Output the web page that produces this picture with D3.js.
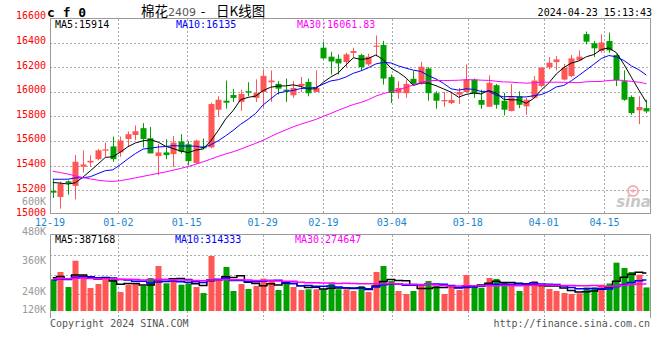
<!DOCTYPE html>
<html><head><meta charset="utf-8">
<script src="https://cdn.jsdelivr.net/npm/d3@7/dist/d3.min.js"></script>
<style>body{margin:0;background:#fff}svg{display:block}</style>
</head><body>
<svg id="c" width="660" height="360"></svg>
<script>
// ---- data ----
const openP = [15194,15145,15272,15235,15390,15425,15452,15521,15556,15507,
15616,15649,15704,15622,15477,15507,15493,15595,15573,15420,
15556,15548,15854,15927,15974,15917,16004,15950,15998,16077,
16064,16017,15971,16047,16080,15998,16358,16285,16268,16241,
16315,16298,16222,16369,16380,16119,15990,15988,16105,16069,
16189,15988,15922,15908,15976,15998,16099,15933,15878,16053,
15927,15843,15963,15881,15950,16047,16200,16241,16099,16127,
16255,16468,16394,16331,16413,16298,16086,15957,15849,15867];
const highP = [15290,15270,15281,15485,15524,15483,15534,15587,15636,15636,
15677,15726,15745,15714,15575,15614,15641,15655,15600,15610,
15620,15912,15963,16091,16023,16017,16077,16100,16181,16173,
16086,16107,16086,16121,16107,16173,16407,16325,16304,16317,
16358,16309,16309,16457,16413,16140,16086,16100,16168,16244,
16200,16004,15998,15998,16031,16222,16107,16017,16132,16064,
15990,16064,16004,15950,16127,16200,16282,16290,16227,16298,
16336,16489,16413,16467,16481,16304,16173,15971,15963,15935];
const lowP = [15137,15050,15164,15125,15344,15390,15442,15472,15431,15472,
15554,15608,15546,15499,15322,15452,15387,15499,15403,15415,
15530,15540,15800,15862,15917,15845,15963,15917,15873,15917,
15976,15917,15950,15998,15963,15998,16263,16140,16140,16200,
16277,16168,16208,16287,16058,15908,15944,15950,16053,16058,
15927,15862,15878,15900,15900,15998,15950,15862,15878,15862,
15808,15840,15867,15813,15944,16037,16181,16173,16091,16118,
16250,16385,16282,16317,16317,16045,15927,15813,15736,15826];
const closeP = [15180,15254,15254,15431,15409,15439,15524,15532,15452,15603,
15655,15679,15616,15499,15507,15485,15587,15513,15436,15603,
15540,15900,15935,15911,15950,15982,15993,15990,16129,16091,
16025,16004,16031,16064,15988,16031,16271,16246,16230,16304,
16331,16200,16285,16375,16107,15990,16031,16064,16064,16203,
15988,15927,15933,15933,15998,16099,15985,15894,16072,15894,
15854,15955,15894,15935,16091,16195,16236,16263,16195,16271,
16285,16407,16353,16400,16336,16094,15935,15826,15876,15840];
const volume = [323000,397000,244000,512000,363000,234000,275000,323000,336000,193000,
268000,275000,255000,336000,458000,282000,316000,268000,282000,244000,
183000,560000,313000,448000,204000,275000,224000,255000,329000,305000,
214000,305000,244000,214000,221000,221000,221000,282000,221000,221000,
204000,255000,193000,397000,458000,305000,204000,173000,204000,255000,
305000,255000,173000,255000,214000,366000,255000,237000,336000,326000,
295000,255000,204000,285000,305000,255000,224000,204000,183000,173000,
180000,240000,240000,268000,280000,492000,438000,397000,369000,240000];
// estimated sessions before the visible window (only feed the moving averages)
const priorCloses = [15554,15614,15881,15799,15799,15824,15742,15542,15423,15325,
15319,15256,15139,15147,15125,15167,15093,14956,15063,14940,
15254,15254,15321,15409,15342,15274,15294,15381,15181];
const priorVolumes = [352000,318000,365000,301000,344000,327000,389000,312000,336000,298000,
357000,341000,322000,368000,309000,346000,330000,315000,349000,331000,
288000,301000,276000,312000,288000,331000,362000,318000,361000];
const tickLabels = ["12-19","01-02","01-15","01-29","02-19","03-04","03-18","04-01","04-15"];
const tickIndex = [0,9,18,28,36,45,55,65,73];
const priceTicks = [16600,16400,16200,16000,15800,15600,15400,15200,15000];
const volLabels = ["480K","360K","240K","120K"];
const mainLegendNames = ["MA5","MA10","MA30"];
const mainLegendValues = ["15914","16135","16061.83"];
const volLegendValues = ["387168","314333","274647"];
const maPeriods = [5,10,30];

// ---- drawing ----
const N = closeP.length;
const svg = d3.select("#c");
const MONO = "'DejaVu Sans Mono', monospace";
const CJK = "'Noto Sans CJK SC', sans-serif";
const RED = "#ff5555", GREEN = "#00a000";
const maColors = ["#000000","#0000ff","#ff00ff"];

const xC = d3.scaleLinear().domain([0, N-1]).range([52.8, 646.4]);
const xG = d3.scaleLinear().domain([0, N-1]).range([50, 650]);
const y = d3.scaleLinear().domain([15000, 16600]).range([214.8, 17.9]);
const yV = d3.scaleLinear().domain([0, 784000]).range([311, 234]);

function movingAvg(prior, vals, n){
  const all = prior.concat(vals), off = prior.length;
  return vals.map((_, i) => d3.mean(all.slice(i+off-n+1, i+off+1)));
}

// header
svg.append("text").attr("x",47).attr("y",16.5).attr("font-family",MONO).attr("font-weight","bold")
  .attr("font-size",13).text("c f 0");
svg.append("text").attr("x",141).attr("y",16).attr("font-family",CJK).attr("font-size",13.5).text("棉花");
svg.append("text").attr("x",168).attr("y",15.5).attr("font-family","'DejaVu Sans', sans-serif")
  .attr("font-size",11).attr("fill","#555").text("2409");
svg.append("text").attr("x",203).attr("y",16).attr("text-anchor","middle").attr("font-family",CJK)
  .attr("font-size",13.5).text("-");
svg.append("text").attr("x",216).attr("y",16).attr("font-family",CJK).attr("font-size",13.5).text("日K线图");
svg.append("text").attr("x",652).attr("y",15.5).attr("text-anchor","end").attr("font-family",MONO)
  .attr("font-size",10).text("2024-04-23 15:13:43");

// main grid
const g = svg.append("g");
priceTicks.filter(p => p>15000 && p<16600).forEach(p => {
  const yy = Math.round(y(p))+0.5;
  g.append("line").attr("x1",50).attr("x2",650).attr("y1",yy).attr("y2",yy)
   .attr("stroke","#aaa").attr("stroke-dasharray","2,2");
});
tickIndex.slice(1).forEach(i => {
  const xx = Math.round(xG(i))+0.5;
  g.append("line").attr("x1",xx).attr("x2",xx).attr("y1",19).attr("y2",213)
   .attr("stroke","#aaa").attr("stroke-dasharray","2,2");
  g.append("line").attr("x1",xx).attr("x2",xx).attr("y1",235).attr("y2",320)
   .attr("stroke","#aaa").attr("stroke-dasharray","2,2");
});
[255.5,275.5,294.5].forEach(yy => {
  g.append("line").attr("x1",50).attr("x2",650).attr("y1",yy).attr("y2",yy)
   .attr("stroke","#aaa").attr("stroke-dasharray","2,2");
});

// price labels
priceTicks.forEach(p => {
  svg.append("text").attr("x",46).attr("y",y(p)-2).attr("dominant-baseline","central")
   .attr("text-anchor","end").attr("font-family",MONO).attr("font-size",10).attr("fill","#ff0000").text(p);
});
svg.append("text").attr("x",46).attr("y",201).attr("dominant-baseline","central")
   .attr("text-anchor","end").attr("font-family",MONO).attr("font-size",10).attr("fill","#999").text("600K");

// watermark
const wm = svg.append("g");
wm.append("circle").attr("cx",633).attr("cy",191).attr("r",5).attr("fill","none").attr("stroke","#f3b0b0").attr("stroke-width",2);
wm.append("circle").attr("cx",633).attr("cy",191).attr("r",1.8).attr("fill","#f3b0b0");
wm.append("text").attr("x",651).attr("y",207).attr("text-anchor","end").attr("font-family","'DejaVu Sans', sans-serif")
  .attr("font-style","italic").attr("font-weight","bold").attr("font-size",15).attr("fill","#c8c8c8").text("sina");

// candles
const cg = svg.append("g");
for (let i=0;i<N;i++){
  const up = closeP[i] >= openP[i];
  const col = up ? RED : GREEN;
  const cx = Math.round(xC(i));
  cg.append("line").attr("x1",cx+0.5).attr("x2",cx+0.5).attr("y1",y(highP[i])).attr("y2",y(lowP[i]))
    .attr("stroke",col).attr("stroke-width",1);
  const t = y(Math.max(openP[i],closeP[i])), b = y(Math.min(openP[i],closeP[i]));
  cg.append("rect").attr("x",cx-2.5).attr("y",t).attr("width",6).attr("height",Math.max(1.2,b-t))
    .attr("fill",col);
}
// MA lines (main)
maPeriods.forEach((n,k) => {
  const m = movingAvg(priorCloses, closeP, n);
  svg.append("path").datum(m).attr("fill","none").attr("stroke",maColors[k]).attr("stroke-width",1)
    .attr("d", d3.line().x((d,i)=>xC(i)).y(d=>y(d)));
});

// main borders
svg.append("rect").attr("x",50.5).attr("y",18.5).attr("width",600).attr("height",195)
  .attr("fill","none").attr("stroke","#999");

// main legend
const legX = [55,176,297];
mainLegendNames.forEach((nm,k) => {
  svg.append("text").attr("x",legX[k]).attr("y",24.5).attr("dominant-baseline","central")
    .attr("font-family",MONO).attr("font-size",10).attr("fill",maColors[k]).text(nm+":"+mainLegendValues[k]);
});

// date labels
tickIndex.forEach((i,k) => {
  svg.append("text").attr("x",xG(i)).attr("y",222).attr("dominant-baseline","central").attr("text-anchor","middle")
    .attr("font-family",MONO).attr("font-size",10).attr("fill","#1a86d0").text(tickLabels[k]);
});

// volume bars
const vg = svg.append("g");
for (let i=0;i<N;i++){
  const up = closeP[i] >= openP[i];
  const cx = Math.round(xC(i));
  vg.append("rect").attr("x",cx-2.5).attr("y",yV(volume[i])).attr("width",6)
    .attr("height",yV(0)-yV(volume[i])).attr("fill", up ? RED : GREEN);
}
maPeriods.forEach((n,k) => {
  const m = movingAvg(priorVolumes, volume, n);
  svg.append("path").datum(m).attr("fill","none").attr("stroke",maColors[k]).attr("stroke-width",1.5)
    .attr("d", d3.line().curve(d3.curveStep).x((d,i)=>xC(i)).y(d=>yV(d)));
});
// volume frame
svg.append("path").attr("d","M50.5,318 V234.5 H650.5 V318").attr("fill","none").attr("stroke","#999");
// volume labels
const volLabelY = [231,260,291,309.5];
volLabels.forEach((t,k) => {
  svg.append("text").attr("x",46).attr("y",volLabelY[k]).attr("dominant-baseline","central").attr("text-anchor","end")
    .attr("font-family",MONO).attr("font-size",10).attr("fill","#999").text(t);
});
mainLegendNames.forEach((nm,k) => {
  svg.append("text").attr("x",[55,175,295][k]).attr("y",239).attr("dominant-baseline","central")
    .attr("font-family",MONO).attr("font-size",10).attr("fill",maColors[k]).text(nm+":"+volLegendValues[k]);
});

// footer
svg.append("text").attr("x",50).attr("y",323.5).attr("dominant-baseline","central")
  .attr("font-family",MONO).attr("font-size",10).attr("fill","#555").text("Copyright 2024 SINA.COM");
svg.append("text").attr("x",650).attr("y",323.5).attr("dominant-baseline","central").attr("text-anchor","end")
  .attr("font-family",MONO).attr("font-size",10).attr("fill","#555").text("http://finance.sina.com.cn");
</script>
</body></html>
